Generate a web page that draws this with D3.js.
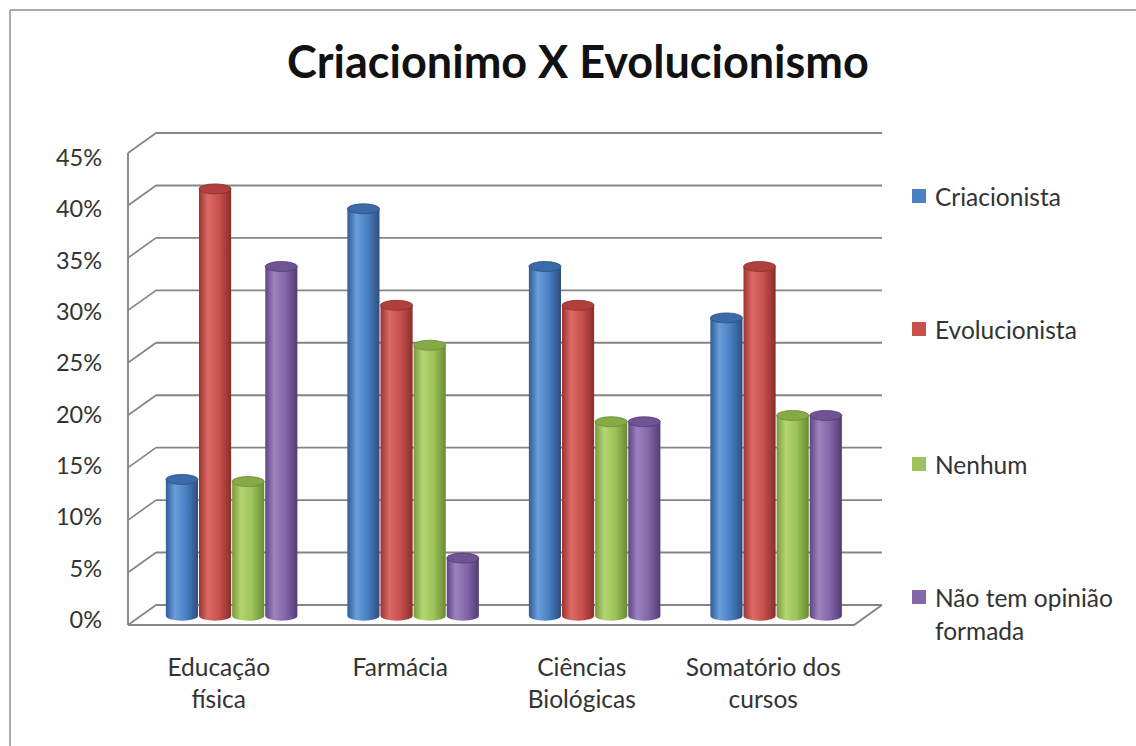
<!DOCTYPE html>
<html>
<head>
<meta charset="utf-8">
<script src="https://cdn.jsdelivr.net/npm/d3@7"></script>
<style>
  html, body { margin: 0; padding: 0; background: #fefefe; }
  svg { display: block; }
  text { font-family: Lato, "Open Sans", sans-serif; fill: #2e2e2e; }
</style>
</head>
<body>
<svg id="chart" width="1136" height="746"></svg>
<script>
// Categories (two-line labels) and series
const categories = ["Educação física", "Farmácia", "Ciências Biológicas", "Somatório dos cursos"];
const categoryLines = [["Educação", "física"], ["Farmácia"], ["Ciências", "Biológicas"], ["Somatório dos", "cursos"]];
const seriesNames = ["Criacionista", "Evolucionista", "Nenhum", "Não tem opinião formada"];
const legendLines = [["Criacionista"], ["Evolucionista"], ["Nenhum"], ["Não tem opinião", "formada"]];

// Percent values per series, one entry per category
const criacionista  = [13.0, 38.8, 33.3, 28.4];
const evolucionista = [40.7, 29.6, 29.6, 33.3];
const nenhum        = [12.8, 25.8, 18.5, 19.1];
const semOpiniao    = [33.3, 5.5, 18.5, 19.1];
const seriesValues = [criacionista, evolucionista, nenhum, semOpiniao];

const yTicks = [0, 5, 10, 15, 20, 25, 30, 35, 40, 45];

// Office-style palette: [edge dark, highlight, body, right edge, cap]
const palette = [
  ["#2f5d95", "#6a9ddc", "#4a80c4", "#2d4f7e", "#3b6aa8"],
  ["#9a3431", "#dd6a66", "#c9504c", "#8a2e2c", "#b0403d"],
  ["#789a3a", "#b5d572", "#9dc35a", "#6b8a33", "#86aa45"],
  ["#5e4685", "#9c83c0", "#8466aa", "#523d74", "#6f5495"]
];

const svg = d3.select("#chart");

// Chart area frame
svg.append("line").attr("x1", 10).attr("y1", 10).attr("x2", 1136).attr("y2", 10)
  .attr("stroke", "#8f8f8f").attr("stroke-width", 1.5);
svg.append("line").attr("x1", 10).attr("y1", 10).attr("x2", 10).attr("y2", 746)
  .attr("stroke", "#8f8f8f").attr("stroke-width", 1.5);

// Title
svg.append("text")
  .attr("x", 578).attr("y", 78)
  .attr("text-anchor", "middle")
  .style("font-size", "45px").style("font-weight", "bold")
  .style("fill", "#111")
  .text("Criacionimo X Evolucionismo");

// 3D box geometry: back wall and depth offset toward the viewer
const backLeft = 156, backRight = 882;
const depthX = -28, depthY = 20;
const y = d3.scaleLinear().domain([0, 45]).range([605, 133]);   // back wall
const yLabel = d3.scaleLinear().domain([0, 45]).range([619, 157]);

const xFront = d3.scaleBand().domain(categories)
  .range([backLeft + depthX, backRight + depthX])
  .paddingInner(0.27).paddingOuter(0.135);
const xSeries = d3.scaleBand().domain(seriesNames).range([0, xFront.bandwidth()]);

const gridColor = "#858585";
const grid = svg.append("g");

// Horizontal gridlines on the back wall plus side-wall diagonals
yTicks.forEach(t => {
  const yy = y(t);
  grid.append("line").attr("x1", backLeft).attr("x2", backRight)
    .attr("y1", yy).attr("y2", yy)
    .attr("stroke", gridColor).attr("stroke-width", 1.9);
  grid.append("line").attr("x1", backLeft).attr("y1", yy)
    .attr("x2", backLeft + depthX).attr("y2", yy + depthY)
    .attr("stroke", gridColor).attr("stroke-width", 1.7);
});
// Front left edge of the side wall
grid.append("line")
  .attr("x1", backLeft + depthX).attr("y1", y(45) + depthY)
  .attr("x2", backLeft + depthX).attr("y2", y(0) + depthY)
  .attr("stroke", gridColor).attr("stroke-width", 1.9);
// Floor outline
grid.append("path")
  .attr("d", `M${backLeft + depthX},${y(0) + depthY} L${backRight + depthX},${y(0) + depthY} L${backRight},${y(0)}`)
  .attr("fill", "none").attr("stroke", gridColor).attr("stroke-width", 1.9);

// Y tick labels
svg.append("g").selectAll("text").data(yTicks).join("text")
  .attr("x", 102).attr("y", d => yLabel(d))
  .attr("text-anchor", "end").attr("dominant-baseline", "central")
  .style("font-size", "23.5px").style("fill", "#333")
  .text(d => d + "%");

// Gradients for the cylinders
const defs = svg.append("defs");
palette.forEach((p, i) => {
  const g = defs.append("linearGradient").attr("id", "body" + i)
    .attr("x1", "0%").attr("x2", "100%").attr("y1", "0%").attr("y2", "0%");
  g.append("stop").attr("offset", "0%").attr("stop-color", p[0]);
  g.append("stop").attr("offset", "28%").attr("stop-color", p[1]);
  g.append("stop").attr("offset", "62%").attr("stop-color", p[2]);
  g.append("stop").attr("offset", "100%").attr("stop-color", p[3]);
});

// Cylinders sit half-way into the floor depth
const depthFrac = 0.46;
const offX = -depthX * depthFrac, offY = -depthY * depthFrac;
const yBar = v => y(v) + depthY + offY;
const ry = 5;

const bars = [];
categories.forEach((c, ci) => {
  seriesNames.forEach((s, si) => {
    bars.push({ c, s, si, v: seriesValues[si][ci] });
  });
});

const barG = svg.append("g");
const cyl = barG.selectAll("g").data(bars).join("g");
cyl.each(function(d) {
  const g = d3.select(this);
  const w = xSeries.bandwidth();
  const x0 = xFront(d.c) + xSeries(d.s) + offX + 0.5;
  const x1 = x0 + w - 1;
  const rx = (x1 - x0) / 2;
  const cx = x0 + rx;
  const yt = yBar(d.v), yb = yBar(0);
  g.append("path")
    .attr("d", `M${x0},${yt} L${x0},${yb} A${rx},${ry} 0 0 0 ${x1},${yb} L${x1},${yt} Z`)
    .attr("fill", `url(#body${d.si})`);
  g.append("ellipse")
    .attr("cx", cx).attr("cy", yt).attr("rx", rx).attr("ry", ry)
    .attr("fill", palette[d.si][4])
    .attr("stroke", palette[d.si][3]).attr("stroke-width", 0.8);
});

// Category labels along the front edge
const catG = svg.append("g");
categories.forEach((c, ci) => {
  const cx = xFront(c) + xFront.bandwidth() / 2;
  const t = catG.append("text")
    .attr("x", cx).attr("y", 676)
    .attr("text-anchor", "middle")
    .style("font-size", "24.5px").style("fill", "#333");
  categoryLines[ci].forEach((line, li) => {
    t.append("tspan").attr("x", cx)
      .attr("dy", li === 0 ? 0 : 32).text(line);
  });
});

// Legend
const legendY = [196, 329, 464, 597];
const legend = svg.append("g");
seriesNames.forEach((s, i) => {
  legend.append("rect").attr("x", 912).attr("y", legendY[i] - 7)
    .attr("width", 14).attr("height", 14)
    .attr("fill", palette[i][2]);
  const t = legend.append("text").attr("x", 935).attr("y", legendY[i])
    .attr("dominant-baseline", "central")
    .style("font-size", "24.5px").style("fill", "#333");
  legendLines[i].forEach((line, li) => {
    t.append("tspan").attr("x", 935).attr("dy", li === 0 ? 0 : 33).text(line);
  });
});
</script>
</body>
</html>
